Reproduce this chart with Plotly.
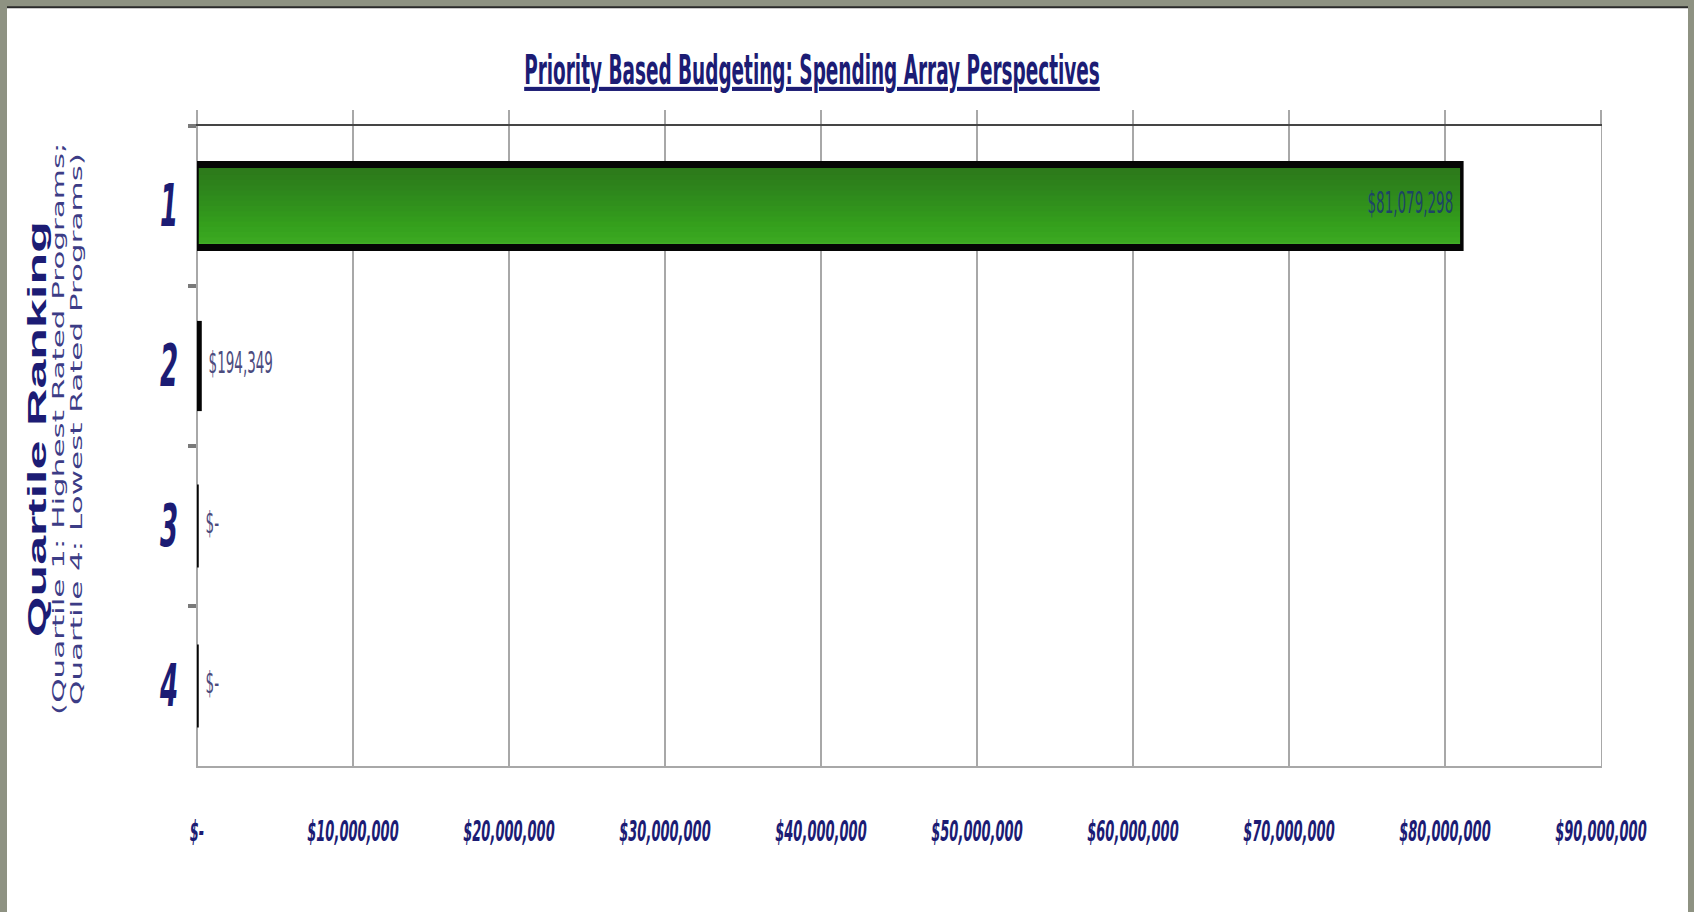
import numpy as np
import plotly.graph_objects as go

# Spending by quartile ranking (1 = highest rated programs)
quartiles = ["1", "2", "3", "4"]
spending = [81079298, 194349, 0, 0]
x_tick_values = [0, 10e6, 20e6, 30e6, 40e6, 50e6, 60e6, 70e6, 80e6, 90e6]


def money(v):
    # accounting style: zero shows as "$-"
    return f"${v:,.0f}" if v > 0 else "$-"


x_tick_labels = [money(v) for v in x_tick_values]
bar_labels = [money(v) for v in spending]

# The page is drawn at a reduced height and stretched vertically by CSS
STRETCH = 2.0
W = 1694
H = 912 / STRETCH
M_L, M_R = 197, 93
M_T = 125 / STRETCH
PLOT_H = 642 / STRETCH
M_B = H - M_T - PLOT_H
PLOT_W = W - M_L - M_R

NAVY = "#1c1c74"
GRID = "#a8a8a8"
NARROW = "Liberation Sans Narrow, Arial Narrow, DejaVu Sans Condensed, sans-serif"
SANS = "Liberation Sans, Arial, sans-serif"
WIDE = "DejaVu Sans, Verdana, sans-serif"

BAR_W = 0.52

fig = go.Figure()

# vertical green gradient for the bars, built from overlapping bands
stops = np.array([0.0, 0.35, 0.7, 0.9, 1.0])
stop_rgb = np.array([
    [44, 118, 26],
    [46, 136, 28],
    [52, 158, 28],
    [58, 168, 32],
    [70, 176, 42],
])
n_bands = 16
band_w = BAR_W / n_bands
for i in range(n_bands):
    t = (i + 0.5) / n_bands
    rgb = [int(round(np.interp(t, stops, stop_rgb[:, c]))) for c in range(3)]
    fig.add_trace(go.Bar(
        y=quartiles, x=spending, orientation="h",
        width=BAR_W - i * band_w, offset=-BAR_W / 2 + i * band_w,
        marker=dict(color=f"rgb({rgb[0]},{rgb[1]},{rgb[2]})", line=dict(width=0)),
        showlegend=False, hoverinfo="skip",
    ))

# bar outline
fig.add_trace(go.Bar(
    y=quartiles, x=spending, orientation="h", width=BAR_W,
    marker=dict(color="rgba(0,0,0,0)", line=dict(color="#050505", width=3.5)),
    showlegend=False, hovertemplate="Quartile %{y}: %{x:$,.0f}<extra></extra>",
))

# value labels
positions = ["middle left" if v > 40e6 else "middle right" for v in spending]
label_colors = ["#1d4466" if v > 40e6 else "#4b4b7e" for v in spending]
fig.add_trace(go.Scatter(
    y=quartiles, x=spending, mode="text",
    text=[(" " + s + "  ") if v > 40e6 else ("  " + s) for s, v in zip(bar_labels, spending)],
    textposition=positions,
    textfont=dict(family=NARROW, size=15, color=label_colors),
    showlegend=False, hoverinfo="skip", cliponaxis=False,
))

# companion trace for the top axis
fig.add_trace(go.Scatter(
    x=[0], y=[quartiles[0]], xaxis="x2", mode="markers",
    marker=dict(opacity=0), showlegend=False, hoverinfo="skip",
))


def px_x(px):
    return (px - M_L) / PLOT_W


def px_y(px_full):
    return (M_T + PLOT_H - px_full / STRETCH) / PLOT_H


# axis title and subtitle
fig.add_annotation(
    text="Quartile Ranking", textangle=-90, showarrow=False,
    xref="paper", yref="paper", x=px_x(37), y=px_y(429),
    xanchor="center", yanchor="middle",
    font=dict(family=SANS, size=26, color=NAVY, weight="bold"),
)
fig.add_annotation(
    text="(Quartile 1: Highest Rated Programs;", textangle=-90, showarrow=False,
    xref="paper", yref="paper", x=px_x(59), y=px_y(429),
    xanchor="center", yanchor="middle",
    font=dict(family=WIDE, size=15.5, color="#3c3c86"),
)
fig.add_annotation(
    text="Quartile 4: Lowest Rated Programs)", textangle=-90, showarrow=False,
    xref="paper", yref="paper", x=px_x(77), y=px_y(429),
    xanchor="center", yanchor="middle",
    font=dict(family=WIDE, size=15.5, color="#3c3c86"),
)

# page frame
FRAME = "#8e9282"
top_edge = px_y(6)
shapes = [
    dict(type="rect", xref="paper", yref="paper", x0=px_x(-20), x1=px_x(7),
         y0=-0.5, y1=1.5, fillcolor=FRAME, line=dict(width=0)),
    dict(type="rect", xref="paper", yref="paper", x0=px_x(1688), x1=px_x(1720),
         y0=-0.5, y1=1.5, fillcolor=FRAME, line=dict(width=0)),
    dict(type="rect", xref="paper", yref="paper", x0=px_x(-20), x1=px_x(1720),
         y0=top_edge, y1=1.5, fillcolor=FRAME, line=dict(width=0)),
    dict(type="line", xref="paper", yref="paper", x0=px_x(7), x1=px_x(1688),
         y0=top_edge, y1=top_edge, line=dict(color="#2a2a2a", width=1)),
]

fig.update_layout(
    width=W, height=H, autosize=False,
    margin=dict(l=M_L, r=M_R, t=M_T, b=M_B),
    paper_bgcolor="white", plot_bgcolor="white",
    barmode="overlay",
    shapes=shapes,
    title=dict(
        text="Priority Based Budgeting: Spending Array Perspectives",
        xref="container", yref="container",
        x=812 / W, y=1 - (70 / STRETCH) / H,
        xanchor="center", yanchor="middle",
        font=dict(family=NARROW, size=20.5, color=NAVY, weight="bold",
                  lineposition="under"),
    ),
    xaxis=dict(
        range=[0, 90e6], tickvals=x_tick_values, ticktext=x_tick_labels,
        showgrid=True, gridcolor=GRID, gridwidth=2,
        zeroline=True, zerolinecolor=GRID, zerolinewidth=2,
        showline=True, linecolor=GRID, linewidth=1,
        ticks="", ticklabelstandoff=19,
        tickfont=dict(family=NARROW, size=14.5, color=NAVY, weight="bold", style="italic"),
        fixedrange=True,
    ),
    xaxis2=dict(
        overlaying="x", side="top", range=[0, 90e6], tickvals=x_tick_values,
        showticklabels=False, showgrid=False, zeroline=False,
        showline=True, linecolor="#454545", linewidth=1.3,
        ticks="outside", ticklen=7, tickwidth=2, tickcolor=GRID,
        fixedrange=True,
    ),
    yaxis=dict(
        categoryorder="array", categoryarray=quartiles, autorange="reversed",
        showgrid=False, zeroline=False,
        showline=True, mirror=True, linecolor=GRID, linewidth=1,
        ticks="outside", tickson="boundaries", ticklen=8, tickwidth=2, tickcolor="#7a7a7a",
        ticklabelstandoff=12,
        tickfont=dict(family=NARROW, size=29, color=NAVY, weight="bold", style="italic"),
        fixedrange=True,
    ),
)

stretch_js = (
    "var gd=document.getElementById('{plot_id}');"
    "gd.style.transformOrigin='0 0';"
    f"gd.style.transform='scaleY({STRETCH})';"
)
fig.write_html("out.html", post_script=stretch_js, config={"displayModeBar": False})
